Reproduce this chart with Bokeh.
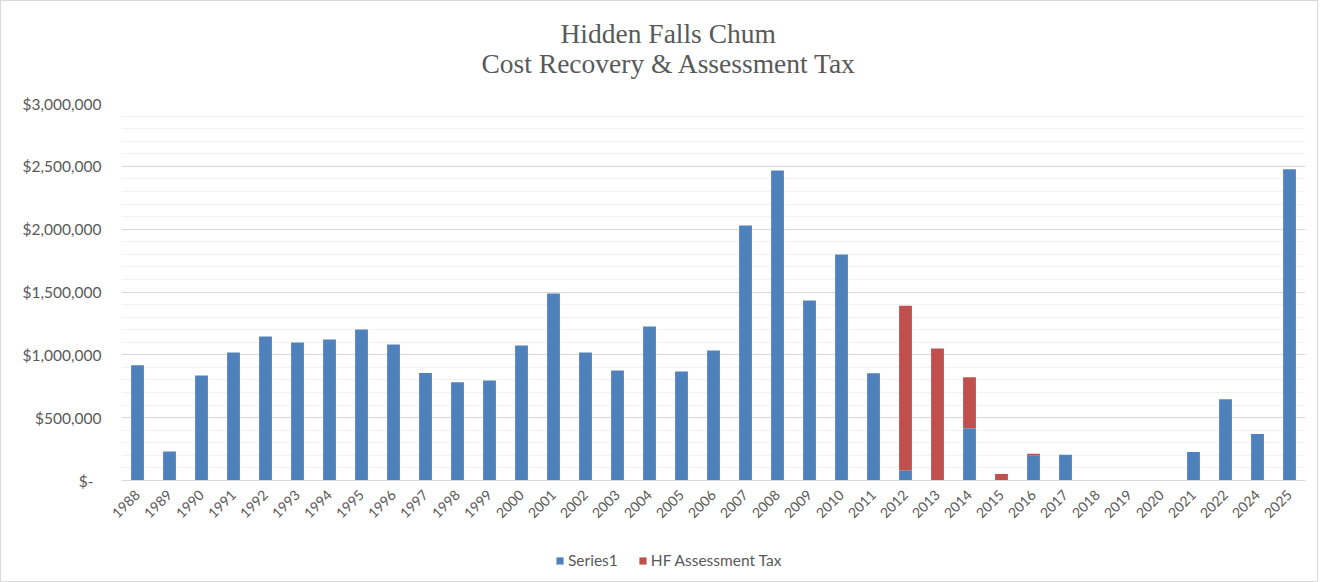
from bokeh.plotting import figure
from bokeh.layouts import column
from bokeh.models import (FactorRange, SingleIntervalTicker, CustomJSTickFormatter,
                          Legend, LegendItem, Title, Range1d, ColumnDataSource)
from bokeh.embed import file_html
from bokeh.resources import INLINE
import math

years = ["1988", "1989", "1990", "1991", "1992", "1993", "1994", "1995", "1996", "1997",
         "1998", "1999", "2000", "2001", "2002", "2003", "2004", "2005", "2006", "2007",
         "2008", "2009", "2010", "2011", "2012", "2013", "2014", "2015", "2016", "2017",
         "2018", "2019", "2020", "2021", "2022", "2024", "2025"]
series1 = [918000, 231000, 836000, 1019000, 1146000, 1098000, 1122000, 1202000, 1082000, 855000,
           782000, 796000, 1074000, 1488000, 1019000, 875000, 1225000, 867000, 1034000, 2029000,
           2467000, 1432000, 1798000, 853000, 82000, 0, 416000, 0, 197000, 205000,
           0, 0, 0, 227000, 646000, 370000, 2476000]
hf_tax = [0, 0, 0, 0, 0, 0, 0, 0, 0, 0,
          0, 0, 0, 0, 0, 0, 0, 0, 0, 0,
          0, 0, 0, 0, 1308000, 1050000, 406000, 52000, 16000, 0,
          0, 0, 0, 0, 0, 0, 0]
series_names = ["Series1", "HF Assessment Tax"]
colors = ["#4f81bd", "#c0504d"]

FONT = "Lato"
GREY = "#595959"

p = figure(x_range=FactorRange(*years, range_padding=0), y_range=Range1d(0, 3000000),
           width=1316, height=535, output_backend="svg", toolbar_location=None,
           min_border_left=120, min_border_right=12, min_border_top=102, min_border_bottom=56)

src = dict(year=years, series1=series1, tax=hf_tax)
r = p.vbar_stack(["series1", "tax"], x="year", width=0.4, source=src,
                 color=colors, line_color=None)

p.outline_line_color = None
p.xgrid.grid_line_color = None
p.yaxis.ticker = SingleIntervalTicker(interval=500000, num_minor_ticks=5)
p.ygrid.grid_line_color = "#d9d9d9"
p.ygrid.minor_grid_line_color = "#f2f2f2"
p.yaxis.formatter = CustomJSTickFormatter(
    code="return tick == 0 ? '$-\u00a0\u00a0' : '$' + Math.round(tick).toLocaleString('en-US');")
p.yaxis.axis_line_color = None
p.yaxis.major_tick_line_color = None
p.yaxis.minor_tick_line_color = None
p.yaxis.major_label_text_font = FONT
p.yaxis.major_label_text_font_size = "15.5px"
p.yaxis.major_label_text_color = GREY
p.yaxis.major_label_standoff = 14

p.xaxis.axis_line_color = "#d9d9d9"
p.xaxis.major_tick_line_color = None
p.xaxis.minor_tick_line_color = None
p.xaxis.major_label_orientation = math.pi / 4
p.xaxis.major_label_text_font = FONT
p.xaxis.major_label_text_font_size = "14px"
p.xaxis.major_label_text_color = GREY
p.xaxis.major_label_standoff = 6

# blank title used only as spacing between the plot area and the title lines
p.add_layout(Title(text=" ", text_font=FONT, text_font_size="10px", standoff=11), "above")
p.add_layout(Title(text="Cost Recovery & Assessment Tax", align="left", offset=360,
                   text_font="Liberation Serif", text_font_size="27.5px",
                   text_color=GREY, text_font_style="normal", standoff=0), "above")
p.add_layout(Title(text="Hidden Falls Chum", align="left", offset=439,
                   text_font="Liberation Serif", text_font_size="27.5px",
                   text_color=GREY, text_font_style="normal", standoff=-6), "above")

# legend strip below the chart
pl = figure(x_range=Range1d(0, 1), y_range=Range1d(0, 1), width=1316, height=45,
            output_backend="svg", toolbar_location=None, min_border=0,
            x_axis_location=None, y_axis_location=None)
pl.outline_line_color = None
pl.xgrid.grid_line_color = None
pl.ygrid.grid_line_color = None
dummy = ColumnDataSource(dict(x=[5], top=[0]))
lr = [pl.vbar(x="x", top="top", width=0.4, color=c, line_color=None, source=dummy)
      for c in colors]
legend = Legend(items=[LegendItem(label=n, renderers=[g]) for n, g in zip(series_names, lr)],
                orientation="horizontal", location=(434, 12), margin=0,
                label_text_font=FONT, label_text_font_size="15.5px", label_text_color=GREY,
                glyph_width=9, glyph_height=9, label_standoff=4, spacing=20, padding=0,
                label_height=14,
                border_line_color=None, background_fill_alpha=0)
pl.add_layout(legend, "center")

layout = column(p, pl, spacing=0)
layout.styles = {"border": "1px solid #d9d9d9", "box-sizing": "border-box"}

open("out.html", "w").write(file_html(layout, INLINE))
